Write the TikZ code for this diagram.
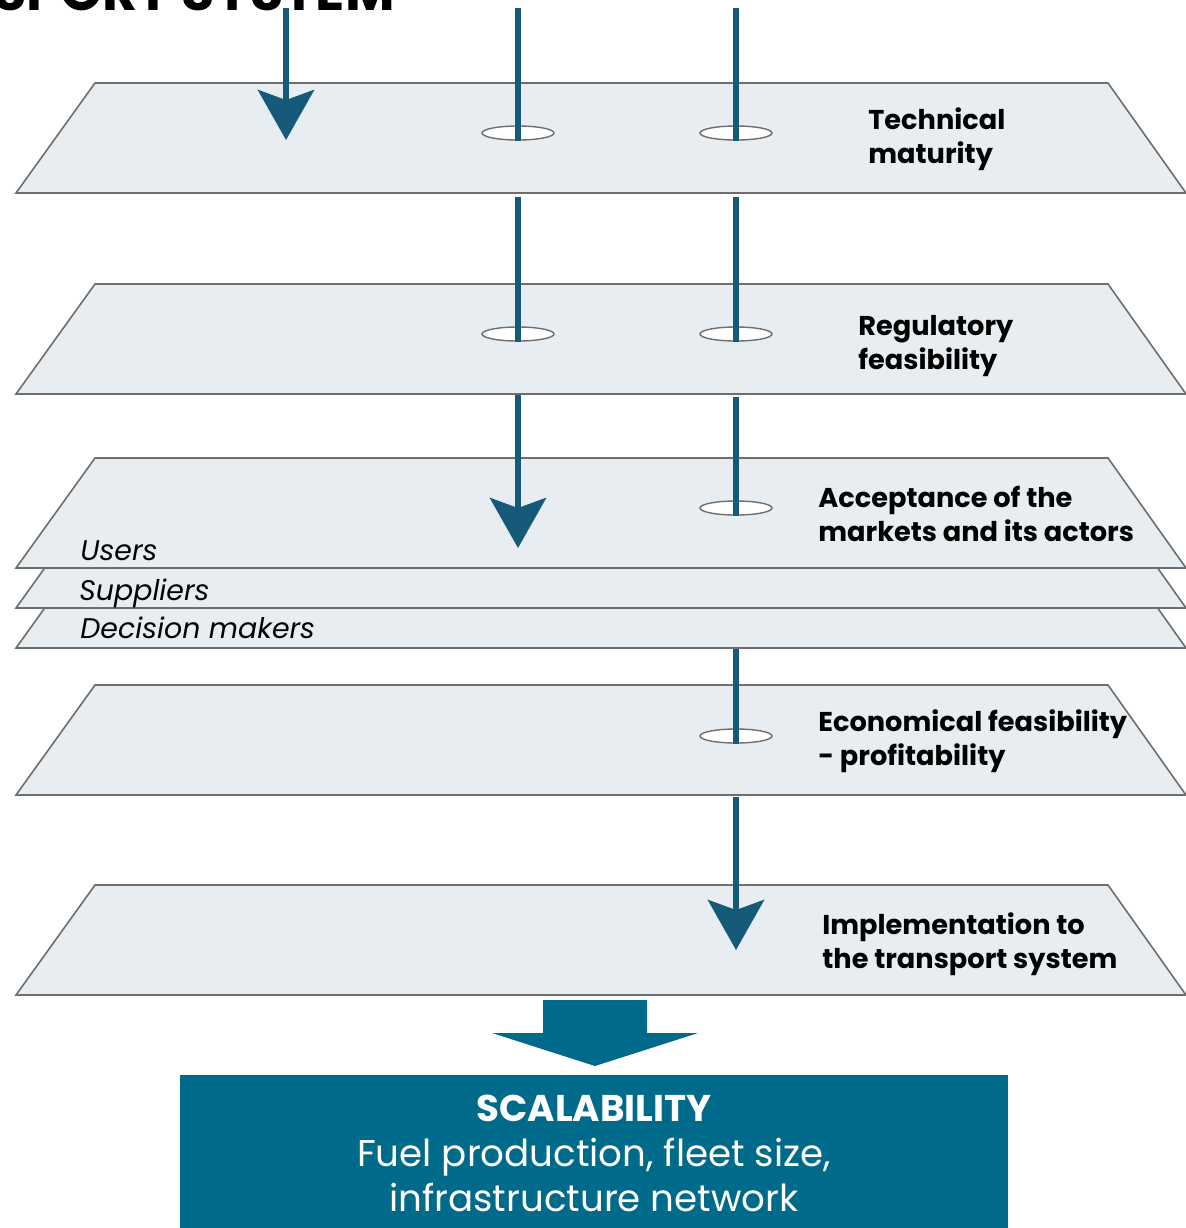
\documentclass[tikz,border=0pt]{standalone}
\usepackage{fontspec}
\setmainfont{Poppins}
\usetikzlibrary{arrows.meta,shapes.geometric}
\definecolor{planefill}{HTML}{E7EDF0}
\definecolor{planeedge}{HTML}{6E6E6E}
\definecolor{stemblue}{HTML}{155A78}
\definecolor{scalblue}{HTML}{006A8A}
\tikzset{>={Stealth[length=25pt,width=28pt,inset=5pt]}}

\begin{document}
\begin{tikzpicture}[x=0.5pt,y=-0.5pt,
  plane/.style={fill=planefill,draw=planeedge,line width=0.8pt},
  stem/.style={draw=stemblue,line width=3pt},
  hole/.style={ellipse,draw=planeedge,fill=white,line width=0.7pt,minimum width=36pt,minimum height=7pt,inner sep=0pt},
  stage/.style={font=\bfseries\fontsize{13.6}{17}\selectfont,align=left,anchor=west,inner sep=0pt},
  actor/.style={font=\itshape\fontsize{14.2}{17}\selectfont,anchor=base west,inner sep=0pt}]

\useasboundingbox (0,0) rectangle (1186,1228);

\node[font=\bfseries\fontsize{27}{27}\selectfont,anchor=base east,inner sep=0pt] (title) at (395,10) {SPORT SYSTEM};

% planes, back ones first
\foreach \t in {83,284,538,498,458,685,885}
  \filldraw[plane] (95,\t) -- (1108,\t) -- (1186,\t+110) -- (16,\t+110) -- cycle;

% holes where the stems pass
\node[hole] (tmA) at (518,133) {};
\node[hole] (tmB) at (736,133) {};
\node[hole] (rfA) at (518,334) {};
\node[hole] (rfB) at (736,334) {};
\node[hole] (acB) at (736,508) {};
\node[hole] (efB) at (736,736) {};

\coordinate (topL) at (286,8);
\coordinate (topA) at (518,8);
\coordinate (topB) at (736,8);
\coordinate (tmL) at (286,140);
\coordinate (tmAout) at (518,197);
\coordinate (tmBout) at (736,197);
\coordinate (rfAout) at (518,395);
\coordinate (rfBout) at (736,397);
\coordinate (acA) at (518,548);
\coordinate (acBout) at (736,649);
\coordinate (efBout) at (736,797);
\coordinate (imB) at (736,950);

% stems
\draw[stem,->] (topL) -- (tmL);
\draw[stem] (topA) -- (tmA.south);
\draw[stem] (topB) -- (tmB.south);
\draw[stem] (tmAout) -- (rfA.south);
\draw[stem] (tmBout) -- (rfB.south);
\draw[stem,->] (rfAout) -- (acA);
\draw[stem] (rfBout) -- (acB.south);
\draw[stem] (acBout) -- (efB.south);
\draw[stem,->] (efBout) -- (imB);

% labels
\node[stage] (tm) at (868,139) {Technical\\maturity};
\node[stage] (rf) at (858,346) {Regulatory\\feasibility};
\node[stage] (ac) at (818,514) {Acceptance of the\\markets and its actors};
\node[stage] (ef) at (818,741) {Economical feasibility\\- profitability};
\node[stage] (im) at (822,944) {Implementation to\\the transport system};
\node[actor] (users) at (80,560) {Users};
\node[actor] (suppliers) at (79,600) {Suppliers};
\node[actor] (deciders) at (80,638) {Decision makers};

% scalability
\fill[scalblue] (543,1000) -- (647,1000) -- (647,1033) -- (698,1033) -- (595,1066) -- (492,1033) -- (543,1033) -- cycle;
\fill[scalblue] (180,1075) rectangle (1008,1240);
\node[text=white,align=center,inner sep=0pt,font=\fontsize{18.6}{22.5}\selectfont] (scal) at (594,1153)
  {\textbf{SCALABILITY}\\Fuel production, fleet size,\\infrastructure network};
\end{tikzpicture}
\end{document}
